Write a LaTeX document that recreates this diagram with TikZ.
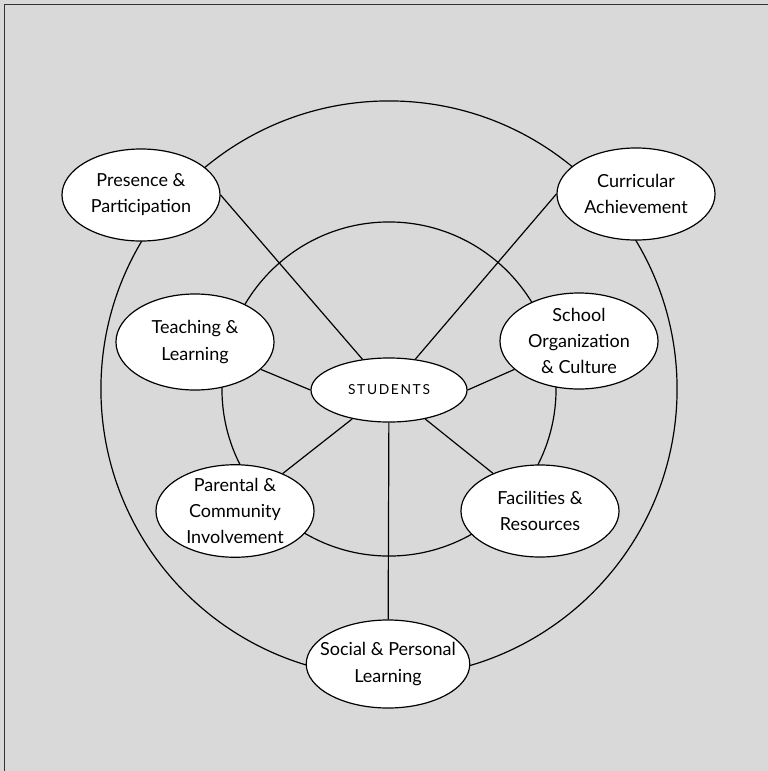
\documentclass[tikz,border=0pt]{standalone}
\usepackage{fontspec}
\setmainfont{Lato}
\usepackage{tikz}
\usetikzlibrary{shapes.geometric}

\begin{document}
\begin{tikzpicture}[
    x=0.025cm, y=-0.025cm,
    topic/.style={ellipse, draw, fill=white, line width=0.85pt, inner sep=0pt, minimum width=3.95cm, minimum height=2.3cm, align=center, font=\fontsize{12.8}{18.5}\selectfont},
    hub/.style={ellipse, draw, fill=white, line width=0.85pt, inner sep=0pt, minimum width=3.9cm, minimum height=1.6cm, font=\fontsize{9.8}{11}\selectfont\addfontfeature{LetterSpace=12}},
    link/.style={line width=0.85pt}
]
\useasboundingbox (0,0) rectangle (768,771);
\fill[black!15] (0,0) rectangle (768,771);
\draw[line width=1pt, black!80] (4.5,771) -- (4.5,4.5) -- (768,4.5);
% rings
\draw[link] (389,389) circle[radius=7.2cm];
\draw[link] (389,389) circle[radius=4.175cm];
% centre and topics
\node[hub] (stud) at (389,390) {STUDENTS};
\node[topic] (pres) at (141,195) {Presence \&\\Participation};
\node[topic] (curr) at (636,194) {Curricular\\Achievement};
\node[topic, minimum height=2.4cm] (teach) at (195,342) {Teaching \&\\Learning};
\node[topic, minimum height=2.4cm] (school) at (579,341) {School\\Organization\\\& Culture};
\node[topic] (par) at (235,511) {Parental \&\\Community\\Involvement};
\node[topic] (fac) at (540,511) {Facilities \&\\Resources};
\node[topic, minimum height=2.2cm, inner xsep=-0.25cm] (soc) at (388,664) {Social \& Personal\\Learning};
% spokes
\draw[link] (pres.east) -- (stud);
\draw[link] (curr.west) -- (stud);
\draw[link] (teach) -- (stud.west);
\draw[link] (school) -- (stud.east);
\draw[link] (par) -- (stud);
\draw[link] (fac) -- (stud);
\draw[link] (soc) -- (stud);
\end{tikzpicture}
\end{document}
